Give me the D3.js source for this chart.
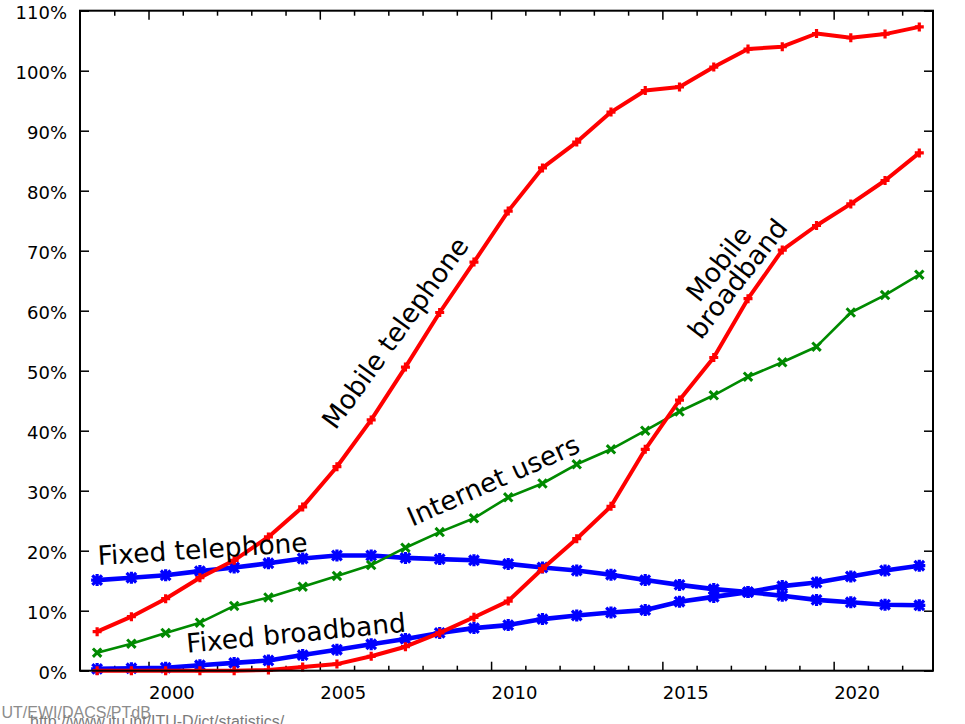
<!DOCTYPE html>
<html>
<head>
<meta charset="utf-8">
<script src="https://cdn.jsdelivr.net/npm/d3@7"></script>
<style>
  html, body { margin: 0; padding: 0; background: #ffffff; }
  svg { display: block; }
</style>
</head>
<body>
<svg id="chart" width="965" height="724"></svg>
<script>
// ICT indicators per 100 inhabitants, world, 1998-2022
const years = [1998, 1999, 2000, 2001, 2002, 2003, 2004, 2005, 2006, 2007, 2008, 2009, 2010,
               2011, 2012, 2013, 2014, 2015, 2016, 2017, 2018, 2019, 2020, 2021, 2022];

const fixedTelephone  = [15.1, 15.5, 15.9, 16.6, 17.2, 17.9, 18.7, 19.2, 19.2, 18.8, 18.6, 18.4, 17.8,
                         17.2, 16.7, 16.0, 15.1, 14.3, 13.6, 13.1, 12.5, 11.8, 11.4, 11.0, 10.9];
const fixedBroadband  = [0.3, 0.4, 0.5, 0.9, 1.3, 1.7, 2.6, 3.5, 4.4, 5.3, 6.3, 7.1, 7.6,
                         8.6, 9.2, 9.7, 10.1, 11.5, 12.3, 13.1, 14.1, 14.7, 15.7, 16.7, 17.5];
const internetUsers   = [3.0, 4.5, 6.3, 8.0, 10.8, 12.2, 14.0, 15.8, 17.6, 20.5, 23.1, 25.4, 28.9,
                         31.2, 34.4, 36.9, 40.0, 43.2, 45.9, 49.0, 51.4, 54.0, 59.7, 62.6, 66.0];
const mobileTelephone = [6.5, 9.0, 12.0, 15.5, 18.4, 22.3, 27.3, 34.0, 41.8, 50.6, 59.7, 68.1, 76.6,
                         83.8, 88.1, 93.1, 96.7, 97.3, 100.6, 103.6, 104.0, 106.2, 105.5, 106.1, 107.3];
const mobileBroadband = [0.0, 0.0, 0.0, 0.0, 0.0, 0.1, 0.6, 1.1, 2.4, 4.0, 6.3, 8.9, 11.6,
                         17.0, 22.0, 27.4, 36.9, 45.1, 52.2, 62.0, 70.1, 74.2, 77.8, 81.7, 86.3];

const yTickValues = [0, 10, 20, 30, 40, 50, 60, 70, 80, 90, 100, 110];
const xMajorTicks = [2000, 2005, 2010, 2015, 2020];
const xMinorTicks = [1999, 2001, 2002, 2003, 2004, 2006, 2007, 2008, 2009, 2011, 2012, 2013,
                     2014, 2016, 2017, 2018, 2019, 2021, 2022];

const seriesLabels = ["Fixed telephone", "Fixed broadband", "Internet users",
                      "Mobile telephone", ["Mobile", "broadband"]];

// ---- layout ----
const svg = d3.select("#chart");
const frame = { left: 80, right: 933, top: 10.7, bottom: 670.7 };
const FONT = "'DejaVu Sans', 'Noto Sans', sans-serif";

// yearly values sit in the middle of each year
const x = d3.scaleLinear().domain([1998, 2022.9]).range([frame.left, frame.right]);
const y = d3.scaleLinear().domain([0, 110]).range([frame.bottom, frame.top]);

// marker shapes
function plusPath(s) { return `M${-s},0H${s}M0,${-s}V${s}`; }
function timesPath(s) { return `M${-s},${-s}L${s},${s}M${-s},${s}L${s},${-s}`; }
function starPath(s) { return plusPath(s) + timesPath(s * 0.8); }

const series = [
  { values: fixedTelephone,  color: "#0000ff", width: 4.6, marker: starPath(6),    mw: 3.2 },
  { values: fixedBroadband,  color: "#0000ff", width: 4.6, marker: starPath(6),    mw: 3.2 },
  { values: internetUsers,   color: "#008a00", width: 2.6, marker: timesPath(4.2), mw: 3 },
  { values: mobileTelephone, color: "#ff0000", width: 4,   marker: plusPath(4.5),  mw: 3.2 },
  { values: mobileBroadband, color: "#ff0000", width: 4,   marker: plusPath(4.5),  mw: 3.2 }
];

// ---- axes (ticks point inward, mirrored on top and right) ----
function styleAxis(g) {
  g.select(".domain").remove();
  g.selectAll(".tick line").attr("stroke", "#000").attr("stroke-width", 1.5);
  g.selectAll("text").attr("fill", "#000").style("font-family", FONT).style("font-size", "18px");
}

svg.append("g")
  .attr("transform", `translate(${frame.left},0)`)
  .call(d3.axisLeft(y).tickValues(yTickValues).tickSizeInner(-9).tickSizeOuter(0)
        .tickPadding(13).tickFormat(d => d + "%"))
  .call(styleAxis)
  .call(g => g.selectAll("text").attr("dy", "0.42em"));

svg.append("g")
  .attr("transform", `translate(${frame.right},0)`)
  .call(d3.axisRight(y).tickValues(yTickValues).tickSizeInner(-9).tickSizeOuter(0).tickFormat(""))
  .call(styleAxis);

svg.append("g")
  .attr("transform", `translate(0,${frame.bottom})`)
  .call(d3.axisBottom(x).tickValues(xMajorTicks).tickSizeInner(-9).tickSizeOuter(0)
        .tickPadding(16).tickFormat(d3.format("d")))
  .call(styleAxis)
  .call(g => g.selectAll("text").attr("text-anchor", "start"));

svg.append("g")
  .attr("transform", `translate(0,${frame.bottom})`)
  .call(d3.axisBottom(x).tickValues(xMinorTicks).tickSizeInner(-5).tickSizeOuter(0).tickFormat(""))
  .call(styleAxis);

svg.append("g")
  .attr("transform", `translate(0,${frame.top})`)
  .call(d3.axisTop(x).tickValues(xMajorTicks).tickSizeInner(-9).tickSizeOuter(0).tickFormat(""))
  .call(styleAxis);

svg.append("g")
  .attr("transform", `translate(0,${frame.top})`)
  .call(d3.axisTop(x).tickValues(xMinorTicks).tickSizeInner(-5).tickSizeOuter(0).tickFormat(""))
  .call(styleAxis);

// ---- series lines and markers ----
const line = d3.line()
  .x((d, i) => x(years[i] + 0.5))
  .y(d => y(d));

const plotArea = svg.append("g");
series.forEach(s => {
  plotArea.append("path")
    .datum(s.values)
    .attr("d", line)
    .attr("fill", "none")
    .attr("stroke", s.color)
    .attr("stroke-width", s.width)
    .attr("stroke-linejoin", "round");

  plotArea.selectAll(null)
    .data(s.values)
    .join("path")
    .attr("transform", (d, i) => `translate(${x(years[i] + 0.5)},${y(d)})`)
    .attr("d", s.marker)
    .attr("fill", "none")
    .attr("stroke", s.color)
    .attr("stroke-width", s.mw);
});

// ---- frame ----
svg.append("rect")
  .attr("x", frame.left).attr("y", frame.top)
  .attr("width", frame.right - frame.left).attr("height", frame.bottom - frame.top)
  .attr("fill", "none").attr("stroke", "#000").attr("stroke-width", 2);

// ---- in-plot series labels (position in year / percent units) ----
const labelSpecs = [
  { text: seriesLabels[0], year: 1998.53, pct: 17.6, angle: -3.7, anchor: "start" },
  { text: seriesLabels[1], year: 2001.13, pct: 3.0,  angle: -5.5, anchor: "start" },
  { text: seriesLabels[2], year: 2007.70, pct: 24.0, angle: -24,  anchor: "start" },
  { text: seriesLabels[3], year: 2007.42, pct: 55.4, angle: -54,  anchor: "middle" },
  { text: seriesLabels[4][0], year: 2016.86, pct: 66.9, angle: -52, anchor: "middle" },
  { text: seriesLabels[4][1], year: 2017.41, pct: 64.4, angle: -52, anchor: "middle" }
];

svg.append("g").selectAll("text")
  .data(labelSpecs)
  .join("text")
  .attr("transform", d => `translate(${x(d.year)},${y(d.pct)}) rotate(${d.angle})`)
  .attr("text-anchor", d => d.anchor)
  .style("font-family", FONT)
  .style("font-size", "26.5px")
  .attr("fill", "#000")
  .text(d => d.text);

// ---- credits ----
svg.append("text")
  .attr("x", 1.5).attr("y", 718)
  .style("font-family", "'Liberation Sans', Arial, sans-serif")
  .style("font-size", "16px")
  .attr("fill", "#8c8c8c")
  .text("UT/EWI/DACS/PTdB");

svg.append("text")
  .attr("x", 30).attr("y", 727)
  .style("font-family", "'Liberation Sans', Arial, sans-serif")
  .style("font-size", "16px")
  .attr("fill", "#7a7a7a")
  .text("http://www.itu.int/ITU-D/ict/statistics/");
</script>
</body>
</html>
